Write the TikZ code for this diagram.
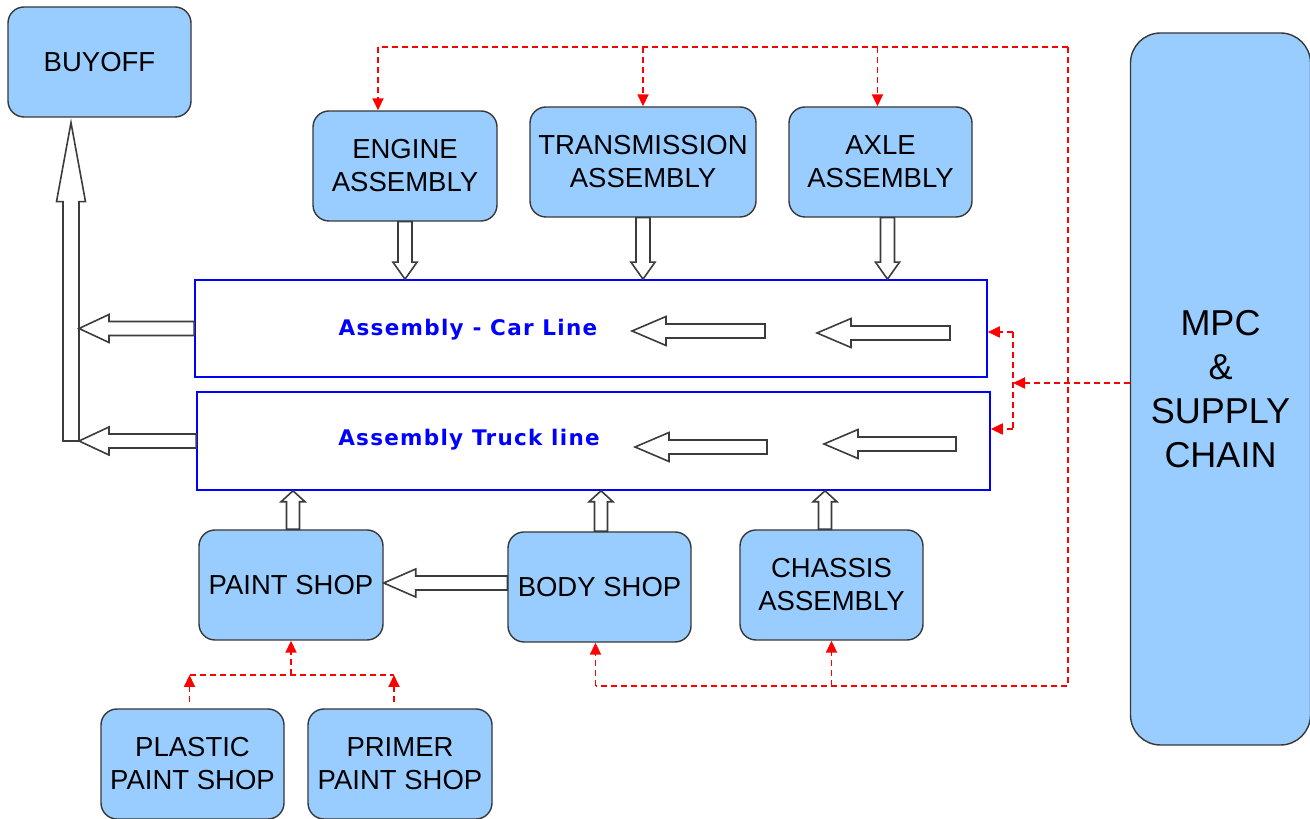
\documentclass[tikz,border=0pt]{standalone}
\usepackage{fontspec}
\setmainfont{Liberation Sans}
\newfontfamily\linefont[LetterSpace=6]{DejaVu Sans}
\usetikzlibrary{arrows.meta,calc}
\definecolor{boxblue}{RGB}{153,204,255}
\definecolor{boxline}{RGB}{55,55,55}
\definecolor{blkline}{RGB}{60,60,60}
\newcommand\blkL[5]{\draw[blk] let \p1=(#1), \p2=(#2) in (\x1,\y1-#3) -- (\x2+#5,\y1-#3) -- (\x2+#5,\y1-#4) -- (\x2,\y1) -- (\x2+#5,\y1+#4) -- (\x2+#5,\y1+#3) -- (\x1,\y1+#3) -- cycle;}
\newcommand\blkD[5]{\draw[blk] let \p1=(#1), \p2=(#2) in (\x1-#3,\y1) -- (\x1-#3,\y2+#5) -- (\x1-#4,\y2+#5) -- (\x1,\y2) -- (\x1+#4,\y2+#5) -- (\x1+#3,\y2+#5) -- (\x1+#3,\y1) -- cycle;}
\newcommand\blkU[5]{\draw[blk] let \p1=(#1), \p2=(#2) in (\x1-#3,\y1) -- (\x1-#3,\y2-#5) -- (\x1-#4,\y2-#5) -- (\x1,\y2) -- (\x1+#4,\y2-#5) -- (\x1+#3,\y2-#5) -- (\x1+#3,\y1) -- cycle;}
\begin{document}
\begin{tikzpicture}[x=1pt,y=1pt,
  box/.style={draw=boxline, line width=1.4pt, fill=boxblue, rounded corners=16pt,
    minimum width=183pt, minimum height=110pt, inner sep=0pt, align=center,
    font=\fontsize{27.5pt}{33pt}\selectfont},
  linebox/.style={draw=blue, line width=1.6pt, inner sep=0pt},
  linetext/.style={text=blue, font=\linefont\bfseries\fontsize{21.5pt}{25pt}\selectfont, inner sep=0pt},
  blk/.style={draw=blkline, fill=white, line width=1.6pt, line join=miter},
  rdl/.style={draw=red, line width=1.8pt, dash pattern=on 6pt off 4pt},
  rd/.style={rdl, -{Triangle[length=12pt,width=11pt]}}]
\useasboundingbox (0,0) rectangle (1310,819);
% nodes
\node[box] (buyoff) at (99.5,757) {BUYOFF};
\node[box, minimum width=184pt] (eng) at (405,653) {ENGINE\\ASSEMBLY};
\node[box, minimum width=226pt] (trans) at (643,657) {TRANSMISSION\\ASSEMBLY};
\node[box] (axle) at (880.5,657) {AXLE\\ASSEMBLY};
\node[linebox, minimum width=792pt, minimum height=97pt] (car) at (591,490.5) {};
\node[linebox, minimum width=793pt, minimum height=98pt] (truck) at (593.5,378) {};
\node[linetext] (cartext) at (468,489) {Assembly - Car Line};
\node[linetext] (trucktext) at (469,379) {Assembly Truck line};
\node[box, minimum width=184pt] (paint) at (291,234) {PAINT SHOP};
\node[box] (body) at (599.5,232) {BODY SHOP};
\node[box] (chassis) at (831.5,234) {CHASSIS\\ASSEMBLY};
\node[box] (plastic) at (192.5,55) {PLASTIC\\PAINT SHOP};
\node[box, minimum width=184pt] (primer) at (400,55) {PRIMER\\PAINT SHOP};
\node[box, minimum width=180pt, minimum height=712pt, rounded corners=30pt,
  font=\fontsize{36pt}{44pt}\selectfont] (mpc) at (1220.5,430) {MPC\\\&\\SUPPLY\\CHAIN};
% block arrows
\coordinate (bj) at (71,378);
\coordinate (bjr) at (79,378);
\blkU{bj}{$(buyoff.south)+(0,-5)$}{8}{14.5}{79}
\blkL{car.west}{bjr}{7}{14}{30}
\blkL{truck.west}{bjr}{7}{14}{30}
\blkD{eng.south}{car.north}{7}{12}{17}
\blkD{trans.south}{car.north}{7}{12}{17}
\blkD{$(axle.south)+(7,0)$}{car.north}{7}{12}{17}
\coordinate (ca1s) at (765,488); \coordinate (ca1e) at (632,488);
\coordinate (ca2s) at (950,486); \coordinate (ca2e) at (817,486);
\coordinate (ta1s) at (767,372); \coordinate (ta1e) at (635,372);
\coordinate (ta2s) at (956,375); \coordinate (ta2e) at (824,375);
\blkL{ca1s}{ca1e}{7}{14.5}{34}
\blkL{ca2s}{ca2e}{7}{14.5}{34}
\blkL{ta1s}{ta1e}{7}{14.5}{34}
\blkL{ta2s}{ta2e}{7}{14.5}{34}
\blkU{$(paint.north)+(2,0)$}{truck.south}{6.5}{12}{11}
\blkU{$(body.north)+(1.5,0)$}{truck.south}{6.5}{12}{11}
\blkU{$(chassis.north)+(-6.5,0)$}{truck.south}{6.5}{12}{11}
\blkL{$(body.west)+(0,4)$}{paint.east}{7}{14}{32}
% red dashed connectors
\coordinate (tl) at (378,772);
\coordinate (tr) at (1068,772);
\coordinate (br) at (1068,133);
\draw[rdl] (tr) -- (tl);
\draw[rd] (tl) -- (tl |- eng.north);
\draw[rd] (trans.north |- tl) -- (trans.north);
\draw[rd] ($(axle.north |- tl)+(-3,0)$) -- ($(axle.north)+(-3,0)$);
\draw[rdl] (tr) -- (br) -- ($(body.south |- br)+(-4,0)$);
\draw[rd] ($(body.south |- br)+(-4,0)$) -- ($(body.south)+(-4,0)$);
\draw[rd] (chassis.south |- br) -- (chassis.south);
\coordinate (mj) at (1013,436);
\coordinate (mjt) at (1013,487);
\coordinate (mjb) at (1013,390);
\draw[rd] (mpc.west |- mj) -- (mj);
\draw[rdl] (mjt) -- (mjb);
\draw[rd] (mjt) -- (mjt -| car.east);
\draw[rd] (mjb) -- (mjb -| truck.east);
\coordinate (ph) at (291,144);
\draw[rd] (ph) -- (paint.south);
\draw[rdl] ($(plastic.north |- ph)+(-3,0)$) -- ($(primer.north |- ph)+(-6,0)$);
\draw[rd] ($(plastic.north)+(-3,6)$) -- ($(plastic.north |- ph)+(-3,0)$);
\draw[rd] ($(primer.north)+(-6,6)$) -- ($(primer.north |- ph)+(-6,0)$);
\end{tikzpicture}
\end{document}
